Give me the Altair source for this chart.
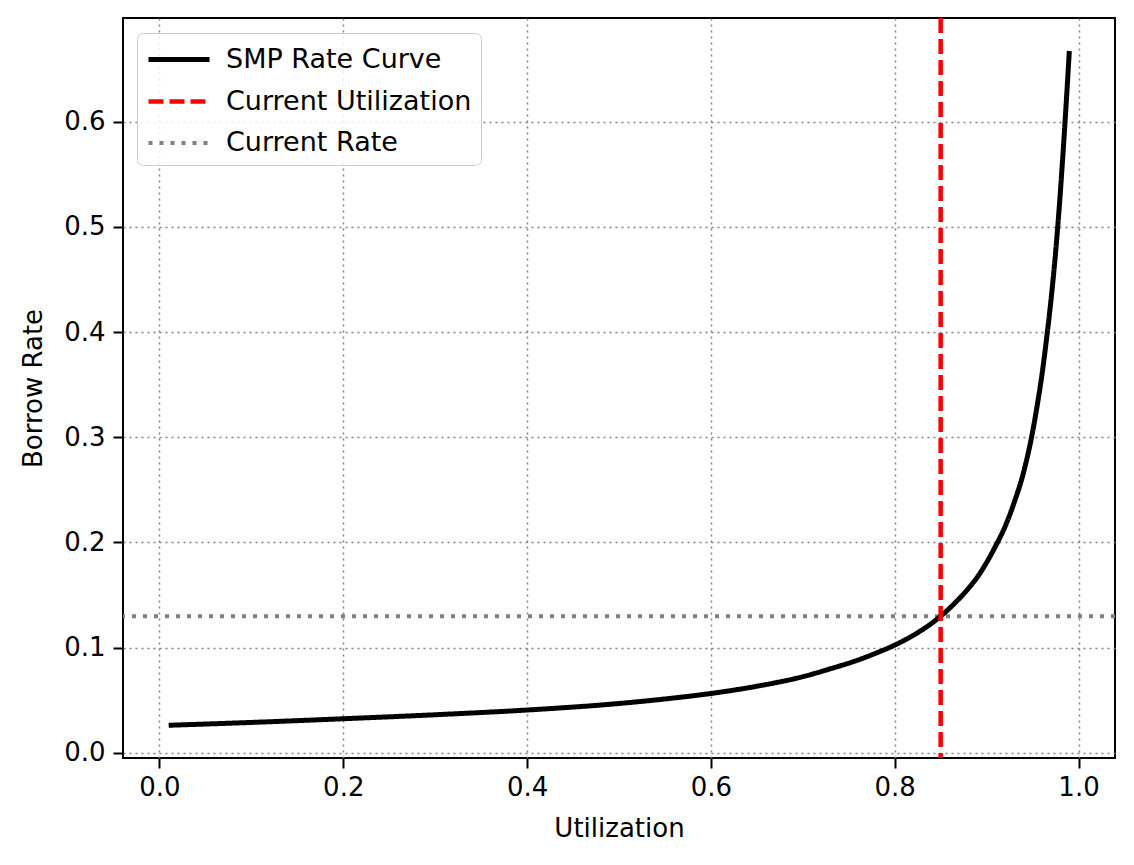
import altair as alt
import pandas as pd

# Curve values
utilization = [0.01, 0.10, 0.20, 0.30, 0.40, 0.50, 0.55, 0.60, 0.65, 0.70,
               0.73, 0.76, 0.78, 0.80, 0.82, 0.84, 0.85, 0.86, 0.87, 0.88,
               0.89, 0.90, 0.91, 0.92, 0.93, 0.94, 0.95, 0.955, 0.96, 0.965,
               0.97, 0.975, 0.98, 0.985, 0.99]
borrow_rate = [0.0263, 0.0290, 0.0325, 0.0363, 0.0408, 0.0470, 0.0513, 0.0565,
               0.0634, 0.0725, 0.0800, 0.0883, 0.0950, 0.1025, 0.1117, 0.1231,
               0.1300, 0.1378, 0.1465, 0.1562, 0.1672, 0.1810, 0.1970, 0.2150,
               0.2380, 0.2660, 0.3050, 0.3300, 0.3580, 0.3920, 0.4300, 0.4750,
               0.5300, 0.5950, 0.6670]
current_utilization = [0.85]
current_rate = [0.13]

series_names = ["SMP Rate Curve", "Current Utilization", "Current Rate"]
series_colors = ["#000000", "#ff0000", "#808080"]
series_dash = [[1, 0], [15, 6], [4, 7]]
series_width = [5, 4, 4]

x_ticks = [0.0, 0.2, 0.4, 0.6, 0.8, 1.0]
y_ticks = [0.0, 0.1, 0.2, 0.3, 0.4, 0.5, 0.6]

curve_df = pd.DataFrame({"u": utilization, "r": borrow_rate, "series": series_names[0]})
vline_df = pd.DataFrame({"u": current_utilization, "series": series_names[1]})
hline_df = pd.DataFrame({"r": current_rate, "series": series_names[2]})

FONT = "DejaVu Sans"

xscale = alt.Scale(domain=[-0.0397, 1.0397], nice=False, zero=False)
yscale = alt.Scale(domain=[-0.0048, 0.6984], nice=False, zero=False)

legend = alt.Legend(
    orient="none", legendX=14, legendY=15,
    symbolType="M-1,0H3.07", symbolSize=900,
    labelLimit=600,
)

color = alt.Color("series:N", title=None,
                  scale=alt.Scale(domain=series_names, range=series_colors),
                  legend=legend)
dash = alt.StrokeDash("series:N", title=None,
                      scale=alt.Scale(domain=series_names, range=series_dash))
width = alt.StrokeWidth("series:N", title=None,
                        scale=alt.Scale(domain=series_names, range=series_width))

xaxis = alt.Axis(values=x_ticks, format=".1f", title="Utilization")
yaxis = alt.Axis(values=y_ticks, format=".1f", title="Borrow Rate")

curve = alt.Chart(curve_df).mark_line(clip=True, interpolate="monotone").encode(
    x=alt.X("u:Q", scale=xscale, axis=xaxis),
    y=alt.Y("r:Q", scale=yscale, axis=yaxis),
    color=color, strokeDash=dash, strokeWidth=width,
)

vline = alt.Chart(vline_df).mark_rule().encode(
    x=alt.X("u:Q", scale=xscale),
    color=color, strokeDash=dash, strokeWidth=width,
)

hline = alt.Chart(hline_df).mark_rule().encode(
    y=alt.Y("r:Q", scale=yscale),
    color=color, strokeDash=dash, strokeWidth=width,
)

chart = alt.layer(hline, curve, vline).properties(
    width=992, height=740,
    autosize=alt.AutoSizeParams(type="none"),
    padding={"left": 115, "top": 10, "right": 10, "bottom": 90},
).configure_view(
    stroke="#000000", strokeWidth=2,
).configure_axis(
    domain=False,
    grid=True, gridColor="#808080", gridDash=[2, 4], gridWidth=1.5,
    ticks=True, tickColor="#000000", tickWidth=2, tickSize=10,
    labelFont=FONT, labelFontSize=26, labelColor="#000000",
    titleFont=FONT, titleFontSize=26, titleFontWeight="normal", titleColor="#000000",
).configure_axisX(
    labelPadding=6, titlePadding=15,
).configure_axisY(
    labelPadding=8, titlePadding=17,
).configure_legend(
    labelFont=FONT, labelFontSize=27, labelColor="#000000",
    labelOffset=45, rowPadding=11, padding=9,
    fillColor="rgba(255,255,255,0.85)", strokeColor="#cccccc",
    cornerRadius=6,
)

chart.save("out.html", embed_options={"renderer": "svg", "actions": False})
